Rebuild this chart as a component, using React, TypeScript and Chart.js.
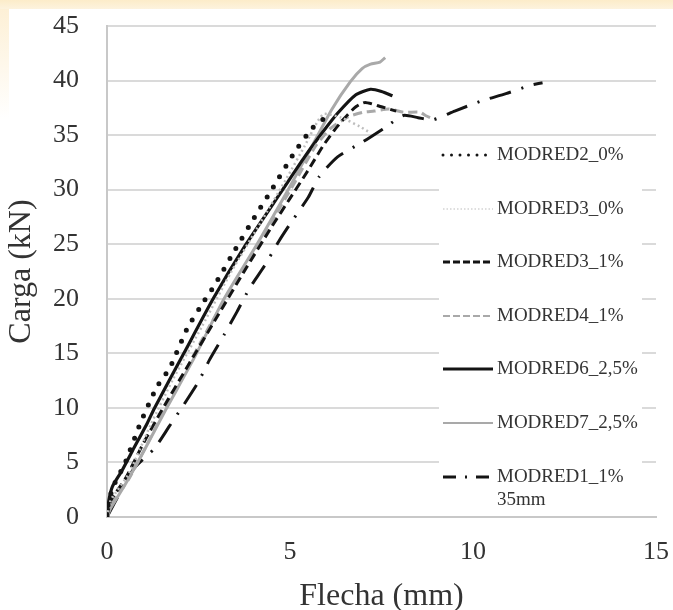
import React, { useEffect, useRef } from 'react';
import { Chart, registerables } from 'chart.js';

Chart.register(...registerables);

const FONT = '"Liberation Serif", "Times New Roman", serif';

const xTitle = 'Flecha (mm)';
const yTitle = 'Carga (kN)';

const seriesNames = [
  'MODRED2_0%',
  'MODRED3_0%',
  'MODRED3_1%',
  'MODRED4_1%',
  'MODRED6_2,5%',
  'MODRED7_2,5%',
  'MODRED1_1%\n35mm',
];

const m2X = [0, 0.05, 0.2, 0.5, 0.9, 1.36, 1.72, 2.18, 2.54, 2.95, 3.5, 4.0, 4.5, 5.1, 5.6, 6.0];
const m2Y = [0, 1.5, 3, 5, 8.5, 11.9, 13.7, 17.2, 19.2, 21.3, 24.5, 27.3, 30, 33.3, 35.6, 36.7];

const m30X = [0, 0.1, 0.6, 1.2, 1.8, 2.6, 3.4, 4.2, 4.9, 5.4, 5.9, 6.4, 6.9, 7.2];
const m30Y = [0, 1.5, 4, 8.5, 12.6, 17.5, 22.5, 27, 31, 34, 36.9, 36.6, 35.8, 35.2];

const m31X = [0, 0.1, 0.5, 1.0, 1.5, 2.2, 3.0, 3.8, 4.5, 5.0, 5.5, 5.9, 6.2, 6.5, 6.8, 7.05, 7.5, 7.9];
const m31Y = [0, 1.5, 3.5, 6.8, 9.8, 13.8, 18.3, 22.8, 26.6, 29.2, 31.8, 34, 35.4, 36.6, 37.6, 38, 37.6, 37.2];

const m4X = [0, 0.1, 0.6, 1.3, 2.0, 2.8, 3.6, 4.4, 5.1, 5.7, 6.1, 6.4, 6.6, 7.0, 7.3, 7.7, 8.1, 8.55, 8.7, 8.9];
const m4Y = [0, 1.2, 3.5, 8, 12.5, 17.5, 22, 26.5, 30.5, 34, 35.6, 36.3, 36.7, 37.1, 37.2, 37.4, 37.1, 37.1, 36.8, 36.5];

const m6X = [0, 0.05, 0.15, 0.4, 0.7, 1.1, 1.3, 2.1, 2.9, 3.8, 4.8, 5.4, 5.9, 6.3, 6.8, 7.2, 7.5, 7.8];
const m6Y = [0, 1.5, 2.8, 4.2, 6.1, 8.6, 10, 15, 20, 25, 30, 33, 35.3, 37, 38.7, 39.2, 39, 38.6];

const m7X = [0, 0.1, 0.5, 1.0, 1.6, 2.4, 3.2, 4.1, 4.95, 5.6, 6.15, 6.65, 6.97, 7.2, 7.46, 7.6];
const m7Y = [0, 0.8, 3, 6, 9.8, 14.7, 20, 25, 30, 34, 37.4, 39.9, 41.1, 41.5, 41.7, 42.1];

const m1X = [0, 0.4, 0.75, 1.3, 1.7, 2.1, 2.5, 2.8, 3.2, 3.55, 3.9, 4.3, 4.7, 5.05, 5.5, 5.8, 6.3, 7.0, 7.6, 8.1, 8.5, 8.9, 9.5, 10.2, 10.9, 11.6, 11.9];
const m1Y = [0, 2.5, 4.5, 6.3, 8.3, 10.3, 12.4, 14.4, 16.7, 18.8, 21, 23, 25.3, 27.1, 29.3, 31.2, 33, 34.4, 35.7, 36.8, 36.6, 36.4, 37.2, 38.1, 38.8, 39.6, 39.8];

const pts = (xs: number[], ys: number[]) => xs.map((x, i) => ({ x, y: ys[i] }));

const BLACK = '#141414';
const GREY = '#a9a9a9';
const LIGHTGREY = '#bdbdbd';

const legendPlugin = {
  id: 'insideLegend',
  afterDatasetsDraw(chart: any) {
    const { ctx } = chart;
    ctx.save();
    ctx.fillStyle = '#ffffff';
    ctx.fillRect(439, 139, 203, 376);
    const rowY = [155, 209, 262, 316, 369, 423, 477];
    chart.data.datasets.forEach((ds: any, i: number) => {
      const y = rowY[i];
      ctx.save();
      ctx.strokeStyle = ds.borderColor;
      ctx.lineWidth = ds.legendWidth ?? ds.borderWidth;
      ctx.setLineDash(ds.legendDash ?? ds.borderDash ?? []);
      ctx.lineCap = ds.borderCapStyle || 'butt';
      ctx.beginPath();
      ctx.moveTo(443, y);
      ctx.lineTo(493, y);
      ctx.stroke();
      ctx.restore();
      ctx.fillStyle = '#333333';
      ctx.font = `19px ${FONT}`;
      ctx.textBaseline = 'middle';
      ctx.textAlign = 'left';
      const lines = String(ds.label).split('\n');
      lines.forEach((t: string, k: number) => ctx.fillText(t, 497, y + k * 23));
    });
    ctx.restore();
  },
};

export default function App() {
  const ref = useRef<HTMLCanvasElement | null>(null);
  useEffect(() => {
    if (!ref.current) return;
    const common = { pointRadius: 0, showLine: true, tension: 0.2, fill: false };
    const chart = new Chart(ref.current, {
      type: 'scatter',
      data: {
        datasets: [
          { ...common, label: seriesNames[0], data: pts(m2X, m2Y), borderColor: BLACK, borderWidth: 5, borderDash: [0, 12], borderCapStyle: 'round', legendWidth: 3, legendDash: [0, 8.5] } as any,
          { ...common, label: seriesNames[1], data: pts(m30X, m30Y), borderColor: LIGHTGREY, borderWidth: 2.5, borderDash: [2, 3], legendWidth: 1.2, legendDash: [1.5, 2] } as any,
          { ...common, label: seriesNames[2], data: pts(m31X, m31Y), borderColor: BLACK, borderWidth: 3, borderDash: [9, 5], legendDash: [7, 3] } as any,
          { ...common, label: seriesNames[3], data: pts(m4X, m4Y), borderColor: GREY, borderWidth: 3, borderDash: [9, 5], legendWidth: 2, legendDash: [7, 3] } as any,
          { ...common, label: seriesNames[4], data: pts(m6X, m6Y), borderColor: BLACK, borderWidth: 3.2 } as any,
          { ...common, label: seriesNames[5], data: pts(m7X, m7Y), borderColor: GREY, borderWidth: 3, legendWidth: 2 } as any,
          { ...common, label: seriesNames[6], data: pts(m1X, m1Y), borderColor: BLACK, borderWidth: 3, borderDash: [22, 11, 2, 11], legendDash: [13, 9, 2, 9] } as any,
        ],
      },
      options: {
        animation: false,
        responsive: false,
        devicePixelRatio: 1,
        layout: { padding: { left: 0, right: 17, top: 26, bottom: 0 } },
        plugins: { legend: { display: false }, tooltip: { enabled: false } },
        scales: {
          x: {
            type: 'linear',
            min: 0,
            max: 15,
            afterFit: (s: any) => { s.height = 93; s.paddingLeft = 0; s.paddingRight = 0; },
            ticks: { stepSize: 5, color: '#333', font: { family: FONT, size: 26 }, padding: 20 },
            grid: { display: false, drawTicks: false },
            border: { display: true, color: '#c8c8c8', width: 2 },
            title: { display: true, text: xTitle, color: '#333', font: { family: FONT, size: 32, lineHeight: 0.85 }, padding: { top: 0, bottom: 0 } },
          },
          y: {
            type: 'linear',
            min: 0,
            max: 45,
            afterFit: (s: any) => { s.width = 107; s.paddingTop = 0; s.paddingBottom = 0; },
            ticks: { stepSize: 5, color: '#333', font: { family: FONT, size: 26 }, padding: 28 },
            grid: { color: '#dadada', lineWidth: 2, drawTicks: false },
            border: { display: true, color: '#c8c8c8', width: 2 },
            title: { display: true, text: yTitle, color: '#333', font: { family: FONT, size: 32, lineHeight: 0.85 }, padding: { top: 8, bottom: 0 } },
          },
        },
      },
      plugins: [legendPlugin],
    });
    return () => chart.destroy();
  }, []);

  return (
    <div style={{ position: 'fixed', left: 0, top: 0, width: 673, height: 610, background: '#ffffff', overflow: 'hidden' }}>
      <div style={{ position: 'absolute', left: 0, top: 0, width: 673, height: 9, background: 'linear-gradient(to bottom, #fcecc9, #fdf3de)' }} />
      <div style={{ position: 'absolute', left: 0, top: 9, width: 9, height: 110, background: 'linear-gradient(to bottom, #fdf0d6, #ffffff)' }} />
      <canvas ref={ref} width={673} height={610} style={{ position: 'absolute', left: 0, top: 0, width: 673, height: 610 }} />
    </div>
  );
}
